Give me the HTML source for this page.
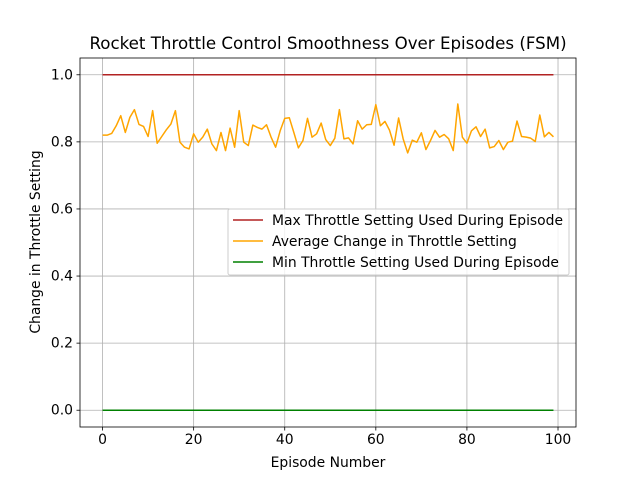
<!DOCTYPE html>
<html><head><meta charset="utf-8"><style>
body{margin:0;background:#fff}
svg text{font-family:"DejaVu Sans","Liberation Sans",sans-serif;fill:#000}
</style></head><body>
<svg id="chart" width="640" height="480" xmlns="http://www.w3.org/2000/svg">
<rect width="640" height="480" fill="#fff"/>
<g id="grid"></g>
<g id="series"></g>
<rect x="80" y="58" width="496" height="369" fill="none" stroke="#000" stroke-width="0.8"/>
<g id="ticks"></g>
<text x="328" y="49" font-size="16.67" text-anchor="middle">Rocket Throttle Control Smoothness Over Episodes (FSM)</text>
<text x="328" y="467" font-size="13.9" text-anchor="middle">Episode Number</text>
<text transform="translate(40,242) rotate(-90)" font-size="13.9" text-anchor="middle">Change in Throttle Setting</text>
<g>
<rect x="228" y="209" width="341" height="66" fill="#fff" fill-opacity="0.8" stroke="#ccc" rx="2"/>
<g><line x1="233" y1="220" x2="263" y2="220" stroke="#b22222" stroke-width="1.5"/><text x="272" y="225" font-size="13.9">Max Throttle Setting Used During Episode</text></g>
<g><line x1="233" y1="241" x2="263" y2="241" stroke="#ffa500" stroke-width="1.5"/><text x="272" y="246" font-size="13.9">Average Change in Throttle Setting</text></g>
<g><line x1="233" y1="262" x2="263" y2="262" stroke="#008000" stroke-width="1.5"/><text x="272" y="267" font-size="13.9">Min Throttle Setting Used During Episode</text></g>
</g>
</svg>
<script>
const avgChange=[0.82,0.82,0.825,0.848,0.878,0.828,0.873,0.896,0.852,0.846,0.816,0.893,0.796,0.816,0.836,0.853,0.893,0.799,0.784,0.779,0.824,0.799,0.814,0.838,0.794,0.774,0.828,0.774,0.841,0.784,0.893,0.799,0.789,0.85,0.843,0.838,0.851,0.814,0.784,0.833,0.87,0.872,0.828,0.782,0.804,0.87,0.814,0.824,0.856,0.807,0.789,0.811,0.896,0.809,0.812,0.794,0.863,0.838,0.851,0.852,0.911,0.848,0.861,0.835,0.79,0.871,0.809,0.767,0.805,0.799,0.827,0.777,0.804,0.834,0.814,0.822,0.809,0.774,0.913,0.814,0.796,0.833,0.845,0.816,0.838,0.782,0.786,0.804,0.777,0.799,0.802,0.862,0.816,0.814,0.811,0.801,0.88,0.815,0.828,0.815];
const maxSetting=1.0;
const minSetting=0.0;
const xTicks=[0,20,40,60,80,100];
const yTicks=[0.0,0.2,0.4,0.6,0.8,1.0];
const NS="http://www.w3.org/2000/svg";
const L=80,R=576,T=58,B=427,xMin=-4.95,xMax=103.95,yMin=-0.05,yMax=1.05;
const sx=v=>L+(v-xMin)/(xMax-xMin)*(R-L);
const sy=v=>B-(v-yMin)/(yMax-yMin)*(B-T);
function mk(tag,attrs,parent){const e=document.createElementNS(NS,tag);for(const k in attrs)e.setAttribute(k,attrs[k]);parent.appendChild(e);return e;}
const grid=document.getElementById('grid'),ticks=document.getElementById('ticks'),series=document.getElementById('series');
xTicks.forEach(t=>{const x=sx(t);
 const g=mk('line',{x1:x,x2:x,y1:T,y2:B,stroke:'#b0b0b0','stroke-width':0.8},grid);
 
 
 mk('line',{x1:x,x2:x,y1:B,y2:B+3.5,stroke:'#000','stroke-width':0.8},ticks);
 const tx=mk('text',{x:x,y:B+17,'font-size':13.9,'text-anchor':'middle'},ticks);tx.textContent=t;
 
 });
yTicks.forEach(t=>{const y=sy(t);
 const g=mk('line',{x1:L,x2:R,y1:y,y2:y,stroke:'#b0b0b0','stroke-width':0.8},grid);
 
 
 mk('line',{x1:L-3.5,x2:L,y1:y,y2:y,stroke:'#000','stroke-width':0.8},ticks);
 const tx=mk('text',{x:L-7,y:y+4.5,'font-size':13.9,'text-anchor':'end'},ticks);tx.textContent=t.toFixed(1);
 
 });
function line(vals,color,name){const d=vals.map((v,i)=>(i?'L':'M')+sx(i).toFixed(2)+','+sy(v).toFixed(2)).join('');
 const p=mk('path',{d:d,fill:'none',stroke:color,'stroke-width':1.5,'stroke-linejoin':'round'},series);
 
 }
line(avgChange.map(()=>maxSetting),'#b22222','max-throttle-line');
line(avgChange,'#ffa500','average-change-line');
line(avgChange.map(()=>minSetting),'#008000','min-throttle-line');
</script>
</body></html>
